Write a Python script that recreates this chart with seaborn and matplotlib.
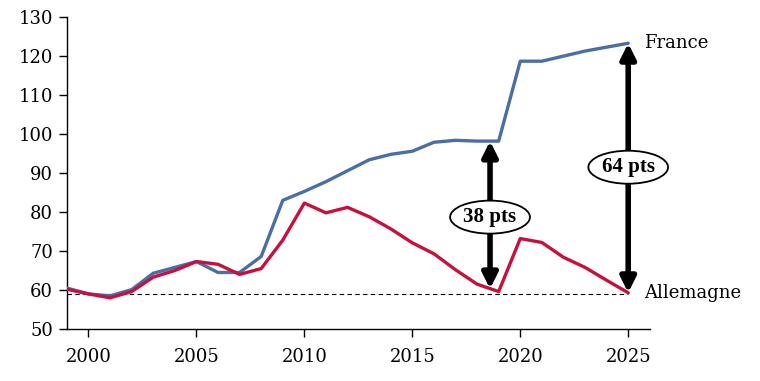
import matplotlib
matplotlib.use("Agg")
import matplotlib.pyplot as plt
import seaborn as sns
import pandas as pd

years = list(range(1999, 2026))
france = [60.5, 59.0, 58.5, 60.1, 64.3, 65.8, 67.3, 64.5, 64.5, 68.6, 83.0, 85.3, 87.8,
          90.6, 93.4, 94.8, 95.6, 97.9, 98.4, 98.2, 98.2, 118.7, 118.7, 120.0, 121.3, 122.3, 123.3]
allemagne = [60.2, 59.0, 58.0, 59.6, 63.3, 65.0, 67.3, 66.6, 64.0, 65.5, 72.8, 82.3, 79.8,
             81.2, 78.8, 75.7, 72.1, 69.3, 65.2, 61.5, 59.6, 73.2, 72.2, 68.4, 65.8, 62.5, 59.3]
series_names = ["France", "Allemagne"]
ref_level = 59.0
gaps = [(2018.6, 98.2, 60.3, "38 pts", 78.7), (2025, 123.3, 59.3, "64 pts", 91.5)]
xticks = [2000, 2005, 2010, 2015, 2020, 2025]
yticks = [50, 60, 70, 80, 90, 100, 110, 120, 130]

df = pd.DataFrame({
    "year": years * 2,
    "value": france + allemagne,
    "pays": ["France"] * len(years) + ["Allemagne"] * len(years),
})

sns.set_style("white")
plt.rcParams["font.family"] = ["DejaVu Serif"]
plt.rcParams["text.color"] = "black"
plt.rcParams["xtick.color"] = "black"
plt.rcParams["ytick.color"] = "black"
plt.rcParams["axes.labelcolor"] = "black"

fig = plt.figure(figsize=(7.6, 3.81), dpi=100)
ax = fig.add_axes([0.088, 0.1365, 0.767, 0.8185])

palette = {"France": "#4A6FA5", "Allemagne": "#C8103E"}
sns.lineplot(data=df, x="year", y="value", hue="pays", palette=palette, lw=2.4,
             legend=False, ax=ax, zorder=3)

ax.plot([1999, 2025], [ref_level, ref_level], ls=(0, (4, 3)), color="black", lw=0.8, zorder=2)

for x, ytop, ybot, label, ylab in gaps:
    ax.annotate("", xy=(x, ytop), xytext=(x, ybot),
                arrowprops=dict(arrowstyle="<|-|>,head_length=0.9,head_width=0.45",
                                lw=4, color="black", shrinkA=0, shrinkB=0), zorder=4)
    ax.text(x, ylab, label, ha="center", va="center", fontsize=15, fontweight="bold",
            family=["Liberation Serif", "DejaVu Serif"],
            bbox=dict(boxstyle="ellipse,pad=0.08", fc="white", ec="black", lw=1.3), zorder=5)

ax.text(2025.75, 123.3, "France", ha="left", va="center", fontsize=13, clip_on=False)
ax.text(2025.75, 59.3, "Allemagne", ha="left", va="center", fontsize=13, clip_on=False)

ax.set_xlim(1999, 2026)
ax.set_ylim(50, 130)
ax.set_xticks(xticks)
ax.set_yticks(yticks)
ax.set_xlabel("")
ax.set_ylabel("")
for s in ["top", "right"]:
    ax.spines[s].set_visible(False)
for s in ["left", "bottom"]:
    ax.spines[s].set_color("black")
    ax.spines[s].set_linewidth(1.0)
ax.tick_params(axis="both", direction="out", length=6, width=1, color="black",
               labelsize=13, left=True, bottom=True)
ax.tick_params(axis="x", pad=8)
ax.tick_params(axis="y", pad=4)

fig.savefig("out.png", dpi=100)
